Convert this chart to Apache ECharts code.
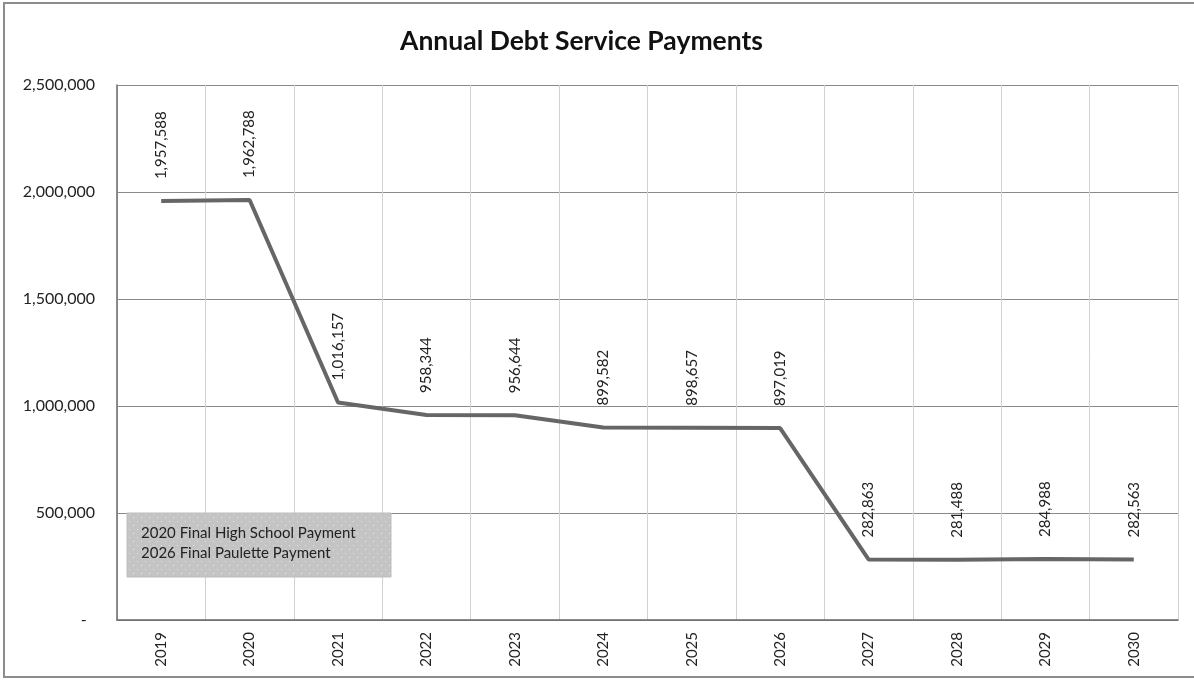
<!DOCTYPE html>
<html>
<head>
<meta charset="utf-8">
<script src="https://cdn.jsdelivr.net/npm/echarts@6/dist/echarts.min.js"></script>
<style>
html,body{margin:0;padding:0;background:#fff;}
#chart{width:1194px;height:680px;}
</style>
</head>
<body>
<div id="chart"></div>
<script>
const years = ['2019','2020','2021','2022','2023','2024','2025','2026','2027','2028','2029','2030'];
const payments = [1957588, 1962788, 1016157, 958344, 956644, 899582, 898657, 897019, 282863, 281488, 284988, 282563];
const yTicks = { min: 0, max: 2500000, interval: 500000 };
const noteLines = ['2020 Final High School Payment', '2026 Final Paulette Payment'];
const titleText = 'Annual Debt Service Payments';

const FONT = 'Lato, "Open Sans", sans-serif';
const fmt = v => v.toLocaleString('en-US');

const pc = document.createElement('canvas');
pc.width = 8; pc.height = 8;
const g = pc.getContext('2d');
g.fillStyle = '#c4c4c4'; g.fillRect(0,0,8,8);
g.fillStyle = '#e2e2e2'; g.fillRect(1,1,1,1); g.fillRect(5,5,1,1);

const chart = echarts.init(document.getElementById('chart'), null, {renderer:'canvas'});
chart.setOption({
  animation: false,
  backgroundColor: '#fff',
  title: {
    text: titleText, left: 395, top: 23,
    textStyle: { fontFamily: FONT, fontSize: 26.5, fontWeight: 'bold', color: '#111' }
  },
  grid: { left: 117, right: 16, top: 85, bottom: 60, containLabel: false },
  xAxis: {
    type: 'category', data: years, boundaryGap: true,
    axisLine: { show: true, lineStyle: { color: '#6a6a6a', width: 1.5 } },
    axisTick: { show: false },
    axisLabel: { rotate: 90, margin: 12, fontFamily: FONT, fontSize: 15, color: '#222' },
    splitLine: { show: true, lineStyle: { color: '#d2d2d2', width: 1 } }
  },
  yAxis: {
    type: 'value', min: yTicks.min, max: yTicks.max, interval: yTicks.interval,
    axisLine: { show: true, lineStyle: { color: '#6a6a6a', width: 1.5 } },
    axisTick: { show: false },
    axisLabel: { margin: 22, fontFamily: FONT, fontSize: 16, color: '#222',
      formatter: v => v === 0 ? '-  ' : fmt(v) },
    splitLine: { show: true, lineStyle: { color: '#8a8a8a', width: 1 } }
  },
  series: [{
    type: 'line', data: payments,
    showSymbol: true, symbol: 'circle', symbolSize: 0,
    lineStyle: { color: '#666', width: 4 },
    itemStyle: { color: '#666' },
    label: {
      show: true, position: 'top', distance: 22, rotate: 90,
      align: 'left', verticalAlign: 'middle',
      fontFamily: FONT, fontSize: 15, color: '#222',
      formatter: p => fmt(p.value)
    }
  }],
  graphic: [
    { type: 'rect', shape: { x: 4, y: 3, width: 1200, height: 674 },
      style: { fill: 'none', stroke: '#8c8c8c', lineWidth: 2 }, z: 0 },
    { type: 'rect', z: 100, shape: { x: 127, y: 513, width: 264, height: 64 },
      style: { fill: { image: pc, repeat: 'repeat' }, stroke: '#bdbdbd', lineWidth: 1 } },
    { type: 'text', z: 101, x: 141, y: 533,
      style: { text: noteLines[0], fontFamily: FONT, fontSize: 15, fill: '#222', textVerticalAlign: 'middle' } },
    { type: 'text', z: 101, x: 141, y: 553,
      style: { text: noteLines[1], fontFamily: FONT, fontSize: 15, fill: '#222', textVerticalAlign: 'middle' } }
  ]
});
</script>
</body>
</html>
